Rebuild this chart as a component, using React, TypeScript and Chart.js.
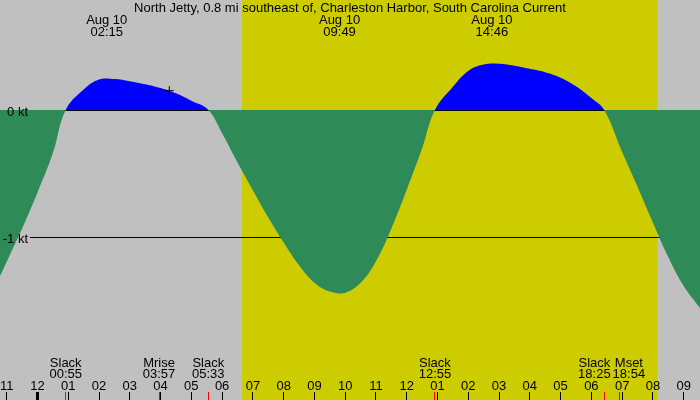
import { useEffect, useRef } from 'react'
import { Chart, registerables } from 'chart.js'

Chart.register(...registerables)

const title = 'North Jetty, 0.8 mi southeast of, Charleston Harbor, South Carolina Current'

// hours since midnight Aug 10, current in knots (+ flood, - ebb)
const times = [
  -1.219, -1, -0.5, 0, 0.5, 0.917, 1.5, 2, 2.5, 3, 3.5, 4, 4.5, 5, 5.55, 6, 6.5, 7, 7.5, 8,
  8.5, 9, 9.5, 10, 10.5, 11, 11.5, 12, 12.5, 12.917, 13.5, 14, 14.5, 15, 15.5, 16, 16.5, 17,
  17.5, 18, 18.417, 19, 19.5, 20, 20.5, 21, 21.531,
]
const currents = [
  -1.307, -1.194, -0.933, -0.649, -0.339, 0, 0.161, 0.24, 0.244, 0.227, 0.203, 0.173, 0.131,
  0.072, 0, -0.183, -0.413, -0.631, -0.847, -1.043, -1.223, -1.361, -1.43, -1.438, -1.361,
  -1.191, -0.933, -0.628, -0.302, 0, 0.183, 0.308, 0.358, 0.365, 0.349, 0.324, 0.297, 0.254,
  0.187, 0.094, 0, -0.33, -0.604, -0.887, -1.157, -1.386, -1.559,
]

const nowTime = 4.283
const nowValue = 0.152

const sunrise = 6.64
const sunset = 20.14

const levelValues = [0, -1]
const levelLabels = ['0 kt', '-1 kt']

const peakTimes = [2.25, 9.817, 14.767]
const peakDates = ['Aug 10', 'Aug 10', 'Aug 10']
const peakClocks = ['02:15', '09:49', '14:46']

const eventTimes = [0.917, 3.95, 5.55, 12.917, 18.417, 18.9]
const eventNames = ['Slack', 'Mrise', 'Slack', 'Slack', 'Slack', 'Mset']
const eventClocks = ['00:55', '03:57', '05:33', '12:55', '18:25', '18:54']

const hourTicks = [-1, 0, 1, 2, 3, 4, 5, 6, 7, 8, 9, 10, 11, 12, 13, 14, 15, 16, 17, 18, 19, 20, 21]
const hourLabels = [
  '11', '12', '01', '02', '03', '04', '05', '06', '07', '08', '09', '10',
  '11', '12', '01', '02', '03', '04', '05', '06', '07', '08', '09',
]

const GREY = '#c0c0c0'
const DAY = '#cccc00'
const FLOOD = '#0000ff'
const EBB = '#2e8b57'
const FONT = '13px "Liberation Sans", Arial, sans-serif'

const tidePlugin = {
  id: 'tide',
  beforeDraw(chart: any) {
    const { ctx, width, height } = chart
    const x = chart.scales.x
    ctx.save()
    ctx.fillStyle = GREY
    ctx.fillRect(0, 0, width, height)
    const x0 = x.getPixelForValue(sunrise)
    const x1 = x.getPixelForValue(sunset)
    ctx.fillStyle = DAY
    ctx.fillRect(x0, 0, x1 - x0, height)
    ctx.restore()
  },
  beforeDatasetsDraw(chart: any) {
    const { ctx, width } = chart
    const y = chart.scales.y
    ctx.save()
    ctx.strokeStyle = '#000'
    ctx.lineWidth = 1
    levelValues.forEach((v) => {
      const py = Math.round(y.getPixelForValue(v)) + 0.5
      ctx.beginPath()
      ctx.moveTo(30, py)
      ctx.lineTo(width, py)
      ctx.stroke()
    })
    ctx.restore()
  },
  afterDraw(chart: any) {
    const { ctx, width, height } = chart
    const x = chart.scales.x
    const y = chart.scales.y
    ctx.save()
    ctx.font = FONT
    ctx.fillStyle = '#000'
    ctx.textBaseline = 'alphabetic'

    ctx.textAlign = 'center'
    ctx.fillText(title, width / 2, 12)
    peakTimes.forEach((t, i) => {
      const px = x.getPixelForValue(t)
      ctx.fillText(peakDates[i], px, 24)
      ctx.fillText(peakClocks[i], px, 36)
    })

    ctx.textAlign = 'right'
    levelValues.forEach((v, i) => {
      const py = Math.round(y.getPixelForValue(v))
      ctx.fillText(levelLabels[i], 28, py + 6)
    })

    // event labels, pushed apart when they collide
    const boxes = eventTimes.map((t, i) => ({
      cx: x.getPixelForValue(t),
      w: Math.max(ctx.measureText(eventNames[i]).width, ctx.measureText(eventClocks[i]).width),
    }))
    for (let i = 1; i < boxes.length; i++) {
      const a = boxes[i - 1]
      const b = boxes[i]
      const need = a.w / 2 + b.w / 2 + 2
      const gap = b.cx - a.cx
      if (gap < need) {
        const shift = (need - gap) / 2
        a.cx -= shift
        b.cx += shift
      }
    }
    ctx.textAlign = 'center'
    boxes.forEach((b, i) => {
      ctx.fillText(eventNames[i], b.cx, 367)
      ctx.fillText(eventClocks[i], b.cx, 378)
    })
    hourTicks.forEach((h, i) => {
      ctx.fillText(hourLabels[i], x.getPixelForValue(h), 390)
    })

    ctx.strokeStyle = '#ff0000'
    ctx.lineWidth = 1
    eventTimes.forEach((t) => {
      const px = Math.floor(x.getPixelForValue(t)) + 0.5
      ctx.beginPath()
      ctx.moveTo(px, height - 8)
      ctx.lineTo(px, height)
      ctx.stroke()
    })

    ctx.strokeStyle = '#000'
    hourTicks.forEach((h) => {
      const px = Math.floor(x.getPixelForValue(h)) + 0.5
      ctx.lineWidth = h === 0 ? 3 : 1
      ctx.beginPath()
      ctx.moveTo(px, height - 8)
      ctx.lineTo(px, height)
      ctx.stroke()
    })
    ctx.restore()
  },
}

function TideChart() {
  const canvasRef = useRef<HTMLCanvasElement>(null)
  const chartRef = useRef<Chart | null>(null)

  useEffect(() => {
    if (!canvasRef.current) return
    document.body.style.margin = '0'

    chartRef.current?.destroy()

    chartRef.current = new Chart(canvasRef.current, {
      type: 'line',
      data: {
        datasets: [
          {
            data: times.map((t, i) => ({ x: t, y: currents[i] })),
            fill: { target: 'origin', above: FLOOD, below: EBB },
            borderWidth: 0,
            pointRadius: 0,
            tension: 0.4,
            order: 2,
          },
          {
            data: [{ x: nowTime, y: nowValue }],
            showLine: false,
            pointStyle: 'cross',
            pointRadius: 4.5,
            borderColor: '#000',
            borderWidth: 1,
            order: 1,
          },
        ],
      },
      options: {
        responsive: false,
        animation: false,
        layout: { padding: 0, autoPadding: false },
        events: [],
        plugins: {
          legend: { display: false },
          tooltip: { enabled: false },
        },
        scales: {
          x: { type: 'linear', display: false, min: -37.5 / 30.77, max: 662.5 / 30.77 },
          y: { display: false, min: -290 / 127, max: 110 / 127 },
        },
      },
      plugins: [tidePlugin],
    } as any)

    return () => {
      chartRef.current?.destroy()
    }
  }, [])

  return <canvas ref={canvasRef} width={700} height={400} style={{ display: 'block' }} />
}

export default function App() {
  return (
    <div style={{ width: 700, height: 400 }}>
      <TideChart />
    </div>
  )
}
